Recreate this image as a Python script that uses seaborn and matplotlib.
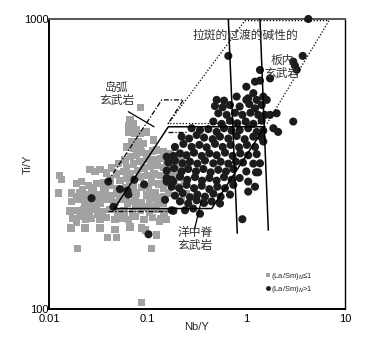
import numpy as np
import pandas as pd
import matplotlib
matplotlib.use('Agg')
import matplotlib.pyplot as plt
from matplotlib.ticker import FuncFormatter, NullFormatter, LogLocator
import seaborn as sns

sns.set_style('white')
plt.rcParams['font.family'] = ['Liberation Sans', 'DejaVu Sans']

# (La/Sm)N <= 1 samples, Nb/Y and Ti/Y
gray_nb_y = [0.087, 0.0194, 0.0393, 0.0485, 0.110, 0.122, 0.0167, 0.0191, 0.0235, 0.0232,
             0.0163, 0.0127, 0.0134, 0.0124, 0.087, 0.0956, 0.1315, 0.156, 0.144, 0.182,
             0.085, 0.0662, 0.0637, 0.0716, 0.0688, 0.0774, 0.0637, 0.0744, 0.0837, 0.0979,
             0.0688, 0.0805, 0.0905, 0.1143, 0.0716, 0.0837, 0.0612, 0.0260, 0.0293, 0.0329,
             0.0384, 0.0191, 0.0214, 0.0250, 0.0304, 0.0355, 0.0415, 0.0170, 0.0206, 0.0237,
             0.0271, 0.0316, 0.0370, 0.0432, 0.0505, 0.0589, 0.0774, 0.0979, 0.1188, 0.0170,
             0.0198, 0.0232, 0.0277, 0.0329, 0.0390, 0.0467, 0.0533, 0.0627, 0.0744, 0.0870,
             0.1043, 0.1255, 0.0191, 0.0223, 0.0256, 0.0299, 0.0350, 0.0415, 0.0493, 0.0576,
             0.0705, 0.0850, 0.1043, 0.1236, 0.1465, 0.0174, 0.0203, 0.0271, 0.0329, 0.0384,
             0.0467, 0.0558, 0.0637, 0.0744, 0.0919, 0.1127, 0.1356, 0.0329, 0.0467, 0.0662,
             0.0432, 0.0505, 0.0589, 0.0673, 0.0774, 0.0870, 0.0994, 0.1127, 0.1236, 0.1443,
             0.1685, 0.1965, 0.221, 0.0612, 0.0716, 0.0837, 0.0979, 0.1161, 0.1356, 0.156,
             0.182, 0.2125, 0.0485, 0.0567, 0.0673, 0.0787, 0.0919, 0.1073, 0.1255, 0.1465,
             0.171, 0.1995, 0.2335, 0.0524, 0.0612, 0.0837, 0.0994, 0.1161, 0.1356, 0.158,
             0.185, 0.216, 0.1099, 0.128, 0.150, 0.175, 0.204, 0.239, 0.248, 0.221,
             0.0716, 0.0485, 0.0870, 0.1018, 0.162, 0.1443, 0.028, 0.036, 0.042, 0.022,
             0.060, 0.110, 0.095, 0.130, 0.058, 0.030, 0.045, 0.080, 0.068, 0.040, 0.025,
             0.019, 0.024, 0.034, 0.052, 0.075, 0.105, 0.145, 0.066, 0.115, 0.031]
gray_ti_y = [105.5, 162, 176, 176, 162, 180, 190, 199, 203, 190,
             218, 288, 280, 251, 190, 187, 200, 203, 232, 219,
             496, 449, 428, 435, 412, 416, 408, 403, 403, 408,
             378, 378, 373, 383, 358, 358, 362, 302, 298, 302,
             294, 271, 275, 267, 271, 272, 267, 251, 252, 247,
             251, 247, 252, 245, 251, 247, 251, 247, 251, 235,
             238, 233, 236, 232, 238, 233, 238, 232, 236, 233,
             238, 232, 219, 220, 216, 220, 216, 220, 216, 219,
             216, 219, 216, 220, 216, 205, 208, 205, 203, 207,
             203, 205, 203, 208, 204, 207, 205, 190, 188, 192,
             306, 318, 326, 335, 339, 348, 343, 351, 353, 348,
             343, 339, 335, 308, 316, 322, 327, 328, 331, 325,
             322, 316, 292, 298, 292, 300, 306, 310, 312, 307,
             303, 300, 306, 277, 283, 285, 289, 292, 288, 292,
             285, 285, 274, 270, 274, 270, 264, 277, 250, 237,
             264, 260, 262, 264, 251, 244, 262, 260, 282, 258,
             262, 226, 225, 242, 212, 226, 226, 226, 250, 240, 230,
             243, 212, 242, 244, 226, 252, 260, 270, 240, 212]

# (La/Sm)N > 1 samples
black_nb_y = [0.500, 0.594, 0.798, 1.0, 1.274, 1.486,
              0.481, 0.576, 0.683, 0.856, 1.07, 1.225, 1.43, 1.61,
              0.52, 0.632, 0.767, 0.912, 1.102, 1.32, 1.545,
              0.463, 0.562, 0.683, 0.81, 0.986, 1.178, 1.43,
              0.279, 0.339, 0.412, 0.5, 0.594, 0.71, 0.856, 1.045, 1.274, 1.486,
              0.221, 0.263, 0.314, 0.373, 0.456, 0.541, 0.657, 0.798, 0.962, 1.178, 1.43,
              0.189, 0.23, 0.279, 0.334, 0.396, 0.481, 0.576, 0.693, 0.844, 1.015, 1.225,
              0.182, 0.2125, 0.248, 0.295, 0.353, 0.422, 0.5, 0.608, 0.727, 0.869, 1.045, 1.274,
              0.162, 0.189, 0.226, 0.268, 0.319, 0.381, 0.463, 0.549, 0.657, 0.785, 0.925, 1.178, 1.375,
              0.156, 0.185, 0.221, 0.258, 0.309, 0.367, 0.435, 0.52, 0.622, 0.738, 1.0, 1.253,
              0.156, 0.182, 0.2125, 0.252, 0.302, 0.356, 0.422, 0.5, 0.594, 0.71, 0.856, 1.045,
              0.175, 0.209, 0.248, 0.295, 0.353, 0.422, 0.508, 0.608, 0.738, 1.225,
              0.189, 0.226, 0.268, 0.319, 0.381, 0.463, 0.549, 0.683,
              0.2125, 0.258, 0.314, 0.373, 0.445, 0.541,
              0.182, 0.239, 0.29, 0.339,
              4.25, 0.657, 3.73, 2.99, 3.11, 3.24, 1.375, 1.74, 1.225, 1.0,
              1.178, 1.045, 1.375, 2.03, 1.88, 2.1, 2.99, 1.74, 0.912, 0.102,
              0.027, 0.0399, 0.045, 0.0524, 0.0624, 0.0637, 0.0732, 0.092, 0.156, 0.175,
              0.156, 0.15, 0.175, 1.32, 1.045, 1.486]
black_ti_y = [526, 523, 540, 526, 526, 540,
              501, 496, 505, 499, 509, 492, 505, 526,
              473, 467, 475, 467, 475, 467, 467,
              443, 435, 446, 437, 443, 435, 446,
              420, 414, 417, 408, 420, 412, 414, 420, 408, 412,
              393, 387, 398, 390, 385, 393, 387, 395, 385, 393, 390,
              362, 371, 362, 368, 361, 371, 362, 368, 361, 368, 362,
              337, 344, 339, 346, 337, 344, 339, 346, 337, 344, 339, 342,
              320, 325, 318, 322, 317, 325, 318, 322, 317, 322, 320, 317, 318,
              300, 306, 298, 304, 298, 304, 296, 302, 298, 304, 298, 296,
              283, 275, 286, 279, 285, 277, 283, 277, 285, 279, 283, 275,
              264, 261, 268, 261, 266, 259, 264, 261, 268, 264,
              246, 251, 243, 248, 244, 250, 244, 248,
              235, 231, 237, 232, 235, 231,
              218, 219, 222, 213,
              1000, 746, 746, 713, 690, 668, 667, 624, 608, 584,
              555, 533, 613, 473, 420, 408, 443, 467, 204, 181,
              241, 275, 225, 259, 256, 248, 279, 269, 275, 279,
              335, 238, 219, 296, 254, 378]

# field boundaries (Nb/Y, Ti/Y)
morb_nb = [0.0459, 0.446, 1.545, 0.162, 0.0459]
morb_ti = [222, 222, 425, 425, 222]
iab_nb = [0.0394, 0.139, 0.2297, 0.158]
iab_ti = [275, 526, 526, 431]
iab_mid_nb = [0.162, 0.248]
iab_mid_ti = [409, 409]
iab_low_nb = [0.0394, 0.182]
iab_low_ti = [217, 217]
wpb_nb = [0.162, 0.969, 6.89, 1.62, 0.162]
wpb_ti = [436, 987, 987, 436, 436]
thol_nb = [0.657, 0.81]
thol_ti = [1000, 182.5]
alk_nb = [1.375, 1.67]
alk_ti = [1000, 187]
iab_tag_nb = [0.0637, 0.116]
iab_tag_ti = [479, 425]
morb_tag_nb = [0.297, 0.352]
morb_tag_ti = [187, 238]

lab_le = '(La/Sm)$_N$≤1'
lab_gt = '(La/Sm)$_N$>1'
df = pd.DataFrame({
    'Nb/Y': gray_nb_y + black_nb_y,
    'Ti/Y': gray_ti_y + black_ti_y,
    'group': [lab_le] * len(gray_nb_y) + [lab_gt] * len(black_nb_y),
})

fig = plt.figure(figsize=(3.7, 3.39), dpi=100)
ax = fig.add_axes([0.1324, 0.0885, 0.8, 0.8555])

sns.scatterplot(data=df, x='Nb/Y', y='Ti/Y', hue='group', style='group', size='group',
                palette={lab_le: '#a2a2a2', lab_gt: '#1c1c1c'},
                markers={lab_le: 's', lab_gt: 'o'},
                sizes={lab_le: 28, lab_gt: 34}, linewidth=0,
                ax=ax, zorder=3)
ax.collections[0].set_clip_on(False)

ln = dict(color='black', zorder=4)
ax.plot(morb_nb, morb_ti, lw=1.1, **ln)
ax.plot(iab_nb, iab_ti, lw=0.9, ls=(0, (4, 1.5, 1, 1.5)), **ln)
ax.plot(iab_mid_nb, iab_mid_ti, lw=0.9, ls=(0, (4, 1.5, 1, 1.5)), **ln)
ax.plot(iab_low_nb, iab_low_ti, lw=0.9, ls=(0, (4, 1.5, 1, 1.5)), **ln)
ax.plot(wpb_nb, wpb_ti, lw=0.9, ls=(0, (1, 1.5)), **ln)
ax.plot(thol_nb, thol_ti, lw=1.1, **ln)
ax.plot(alk_nb, alk_ti, lw=1.1, **ln)
ax.plot(iab_tag_nb, iab_tag_ti, lw=0.9, **ln)
ax.plot(morb_tag_nb, morb_tag_ti, lw=0.9, **ln)

cjk = ['Noto Sans CJK SC', 'DejaVu Sans']
tk = dict(family=cjk, fontsize=8.5, color='#333333', ha='center', va='center',
          linespacing=1.0, zorder=5)
ax.text(0.969, 881, '拉斑的过渡的碱性的', **tk)
ax.text(0.0485, 551, '岛弧\n玄武岩', **tk)
ax.text(2.29, 685, '板内\n玄武岩', **tk)
ax.text(0.302, 175, '洋中脊\n玄武岩', **tk)

ax.set_xscale('log')
ax.set_yscale('log')
ax.set_xlim(0.01, 10)
ax.set_ylim(100, 1000)
fmt = FuncFormatter(lambda v, p: f'{v:g}')
ax.xaxis.set_major_formatter(fmt)
ax.yaxis.set_major_formatter(fmt)
ax.xaxis.set_minor_formatter(NullFormatter())
ax.yaxis.set_minor_formatter(NullFormatter())
ax.yaxis.set_major_locator(LogLocator(base=10))
ax.tick_params(which='both', direction='in', top=False, right=False,
               labelsize=8, colors='black')
ax.tick_params(which='major', length=5, width=0.9)
ax.tick_params(which='minor', length=3, width=0.7)
ax.tick_params(axis='x', pad=3.5)
ax.tick_params(axis='y', pad=0.5)

ax.set_xlabel('Nb/Y', fontsize=8, labelpad=-1)
ax.set_ylabel('Ti/Y', fontsize=8)
ax.yaxis.set_label_coords(-0.056, 0.5)

for side in ['left', 'bottom']:
    ax.spines[side].set_linewidth(1.4)
    ax.spines[side].set_color('black')
ax.spines['top'].set_linewidth(1.4)
ax.spines['top'].set_color('#555555')
ax.spines['right'].set_linewidth(1.0)
ax.spines['right'].set_color('black')

sns.move_legend(ax, 'upper left', bbox_to_anchor=(0.715, 0.145), title=None,
                frameon=False, fontsize=5.5, handletextpad=0.1, labelspacing=0.25,
                borderpad=0, handlelength=0.8, markerscale=0.6)

fig.savefig('out.png', dpi=100)
